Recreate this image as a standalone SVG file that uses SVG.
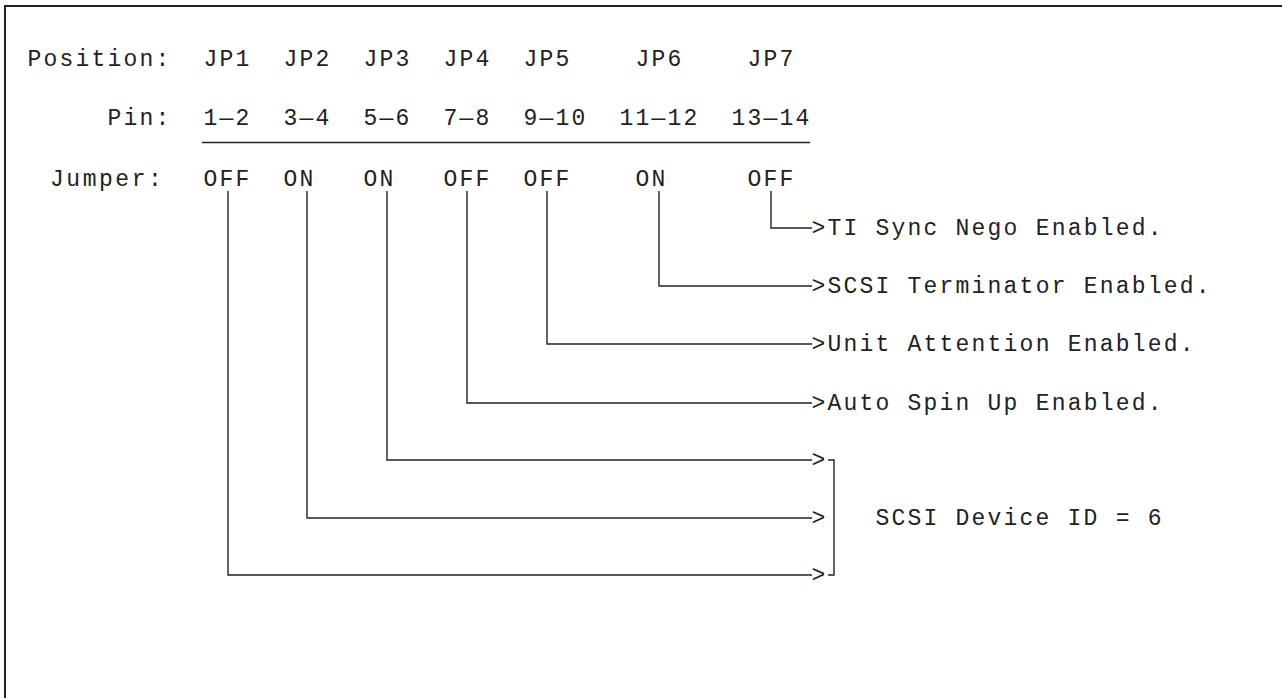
<svg xmlns="http://www.w3.org/2000/svg" width="1282" height="698" viewBox="0 0 1282 698">
<style>
text{font-family:"Liberation Mono","DejaVu Sans Mono",monospace;font-size:23px;letter-spacing:2.2px;fill:#222;}
.c{fill:none;stroke:#222;stroke-width:1.4;}
.frame{fill:none;stroke:#222;stroke-width:2;}
</style>
<rect width="1282" height="698" fill="#fff"/>
<path class="frame" d="M5,698 V6 H1282"/>
<g id="header">
<text x="27.6" y="66">Position:</text>
<text x="107.6" y="125">Pin:</text>
<text x="50" y="186" textLength="114" lengthAdjust="spacing">Jumper:</text>
<line class="c" x1="202" y1="142.5" x2="810" y2="142.5"/>
</g>
<g id="jp1"><text x="203.6" y="66">JP1</text><text x="203.6" y="125">1—2</text><text x="203.6" y="186">OFF</text></g>
<g id="jp2"><text x="283.6" y="66">JP2</text><text x="283.6" y="125">3—4</text><text x="283.6" y="186">ON</text></g>
<g id="jp3"><text x="363.6" y="66">JP3</text><text x="363.6" y="125">5—6</text><text x="363.6" y="186">ON</text></g>
<g id="jp4"><text x="443.6" y="66">JP4</text><text x="443.6" y="125">7—8</text><text x="443.6" y="186">OFF</text></g>
<g id="jp5"><text x="523.6" y="66">JP5</text><text x="523.6" y="125">9—10</text><text x="523.6" y="186">OFF</text></g>
<g id="jp6"><text x="635.6" y="66">JP6</text><text x="619.6" y="125">11—12</text><text x="635.6" y="186">ON</text></g>
<g id="jp7"><text x="747.6" y="66">JP7</text><text x="731.6" y="125">13—14</text><text x="747.6" y="186">OFF</text></g>
<g id="connectors">
<path class="c" d="M771,191 V228 H812"/>
<path class="c" d="M659,191 V286 H812"/>
<path class="c" d="M547,191 V344 H812"/>
<path class="c" d="M467,191 V403 H812"/>
<path class="c" d="M387,191 V460 H812"/>
<path class="c" d="M307,191 V518 H812"/>
<path class="c" d="M228,191 V575 H812"/>
<path class="c" d="M828,460 H834 V575 H828"/>
</g>
<g id="lbl-ti"><text x="811.6" y="235">&gt;TI Sync Nego Enabled.</text></g>
<g id="lbl-term"><text x="811.6" y="293">&gt;SCSI Terminator Enabled.</text></g>
<g id="lbl-ua"><text x="811.6" y="351">&gt;Unit Attention Enabled.</text></g>
<g id="lbl-asu"><text x="811.6" y="410">&gt;Auto Spin Up Enabled.</text></g>
<g id="lbl-id">
<text x="811.6" y="467">&gt;</text>
<text x="811.6" y="525">&gt;</text>
<text x="811.6" y="582">&gt;</text>
<text x="875.6" y="525">SCSI Device ID = 6</text>
</g>
</svg>
